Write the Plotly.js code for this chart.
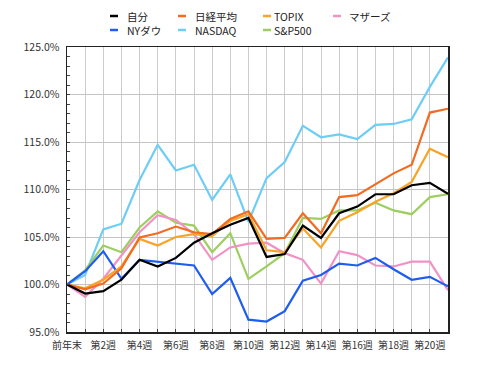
<!DOCTYPE html>
<html><head><meta charset="utf-8">
<script src="https://cdn.plot.ly/plotly-3.0.1.min.js"></script>
<style>html,body{margin:0;padding:0;background:#fff;}#chart{width:480px;height:374px;}</style>
</head><body><div id="chart"></div>
<script>
const categories = ['前年末','第1週','第2週','第3週','第4週','第5週','第6週','第7週','第8週','第9週','第10週','第11週','第12週','第13週','第14週','第15週','第16週','第17週','第18週','第19週','第20週','第21週'];
const tickLabels = ['前年末','','第2週','','第4週','','第6週','','第8週','','第10週','','第12週','','第14週','','第16週','','第18週','','第20週',''];

const jibun   = [100,99.05,99.3,100.5,102.6,101.9,102.8,104.4,105.4,106.3,107.0,102.9,103.2,106.2,104.9,107.5,108.2,109.5,109.5,110.45,110.7,109.55];
const nikkei  = [100,99.5,100.1,101.7,104.95,105.4,106.1,105.5,105.3,106.9,107.7,104.8,104.9,107.5,105.4,109.2,109.4,110.55,111.7,112.6,118.1,118.5];
const topix   = [100,99.6,100.5,101.9,104.8,104.1,105.0,105.3,105.1,106.7,107.4,103.6,103.4,105.9,103.9,106.7,107.6,108.7,109.6,110.8,114.3,113.4];
const mothers = [100,98.7,100.6,103.0,105.5,107.3,106.8,105.3,102.6,103.9,104.3,104.4,103.3,102.6,100.1,103.5,103.1,102.0,101.9,102.4,102.4,99.4];
const nydow   = [100,101.4,103.5,100.6,102.6,102.4,102.2,102.0,99.0,100.7,96.3,96.1,97.2,100.4,101.0,102.2,102.0,102.8,101.6,100.5,100.8,99.8];
const nasdaq  = [100,101.0,105.8,106.4,111.0,114.7,112.0,112.6,108.9,111.6,106.6,111.2,112.9,116.7,115.5,115.8,115.3,116.8,116.9,117.4,120.8,123.9];
const sp500   = [100,101.5,104.1,103.4,106.0,107.7,106.5,106.2,103.4,105.4,100.6,101.9,103.3,107.0,106.9,107.8,107.8,108.6,107.8,107.4,109.2,109.5];

const seriesNames  = ['自分','日経平均','TOPIX','マザーズ','NYダウ','NASDAQ','S&P500'];
const seriesValues = [jibun, nikkei, topix, mothers, nydow, nasdaq, sp500];
const seriesColors = ['#000000','#f26b21','#f7a428','#f291c5','#1f5cf0','#6dcdf5','#9dce5f'];
const drawOrder = [5,6,3,4,2,1,0];

const traces = drawOrder.map(i => ({
  type:'scatter', mode:'lines', name:seriesNames[i],
  x:categories, y:seriesValues[i],
  line:{color:seriesColors[i], width:2.2},
  showlegend:false, hoverinfo:'skip'
}));

// Manual legend: short coloured dashes (shapes) + labels (annotations)
const L=67, R=448, T=47, B=332;
const px2x = p => (p-L)/(R-L);
const px2y = p => (B-p)/(B-T);
const colSym = [110,178,263,333];
const colTxt = [126,194,273,348];
const rowY = [16,30];
const shapes = [], annotations = [];
seriesNames.forEach((n,i)=>{
  const c=i%4, r=Math.floor(i/4);
  shapes.push({type:'line', xref:'paper', yref:'paper',
    x0:px2x(colSym[c]), x1:px2x(colSym[c]+8), y0:px2y(rowY[r]), y1:px2y(rowY[r]),
    line:{color:seriesColors[i], width:2.5}});
  annotations.push({xref:'paper', yref:'paper', x:px2x(colTxt[c]), y:px2y(rowY[r]),
    xanchor:'left', yanchor:'middle', showarrow:false, text:n, borderpad:0,
    font:{size:10.5, color:'#222'}});
});

const layout = {
  width:480, height:374,
  margin:{l:L, r:480-R, t:T, b:374-B, pad:0},
  paper_bgcolor:'#fff', plot_bgcolor:'#fff',
  font:{family:'"Noto Sans CJK JP", "Liberation Sans", sans-serif', size:10, color:'#333'},
  showlegend:false,
  xaxis:{type:'category', range:[0,21], tickmode:'array', tickvals:categories, ticktext:tickLabels,
    showgrid:true, gridcolor:'#cccccc', gridwidth:1,
    showline:true, linecolor:'#222', linewidth:1.5, mirror:true,
    ticks:'inside', ticklen:3, tickcolor:'#444', tickangle:0, ticklabelstandoff:3,
    tickfont:{size:10, color:'#333'}, zeroline:false, fixedrange:true},
  yaxis:{range:[95,125], tickmode:'linear', tick0:95, dtick:5, tickformat:'.1f', ticksuffix:'%',
    showgrid:true, gridcolor:'#c4c4c4', gridwidth:1,
    showline:true, linecolor:'#222', linewidth:1.5, mirror:true,
    ticks:'inside', ticklen:3, tickcolor:'#444', ticklabelstandoff:4,
    minor:{dtick:1, tick0:95, ticks:'inside', ticklen:3, tickcolor:'#444', showgrid:false},
    tickfont:{size:10.5, color:'#333'}, zeroline:false, fixedrange:true},
  shapes:shapes, annotations:annotations
};

Plotly.newPlot('chart', traces, layout, {displayModeBar:false, staticPlot:true});
</script></body></html>
